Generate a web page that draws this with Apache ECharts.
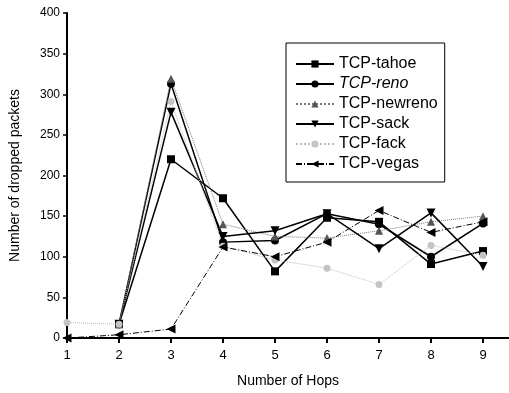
<!DOCTYPE html>
<html>
<head>
<meta charset="utf-8">
<script src="https://cdn.jsdelivr.net/npm/echarts@6/dist/echarts.min.js"></script>
<style>
	html, body { margin: 0; padding: 0; background: #fff; }
	#chart { width: 509px; height: 393px; }
</style>
</head>
<body>
<div id="chart"></div>
<script>
	// number of hops (x axis)
	var hops = [1, 2, 3, 4, 5, 6, 7, 8, 9];
	var yTicks = [0, 50, 100, 150, 200, 250, 300, 350, 400];

	// dropped packets per TCP variant
	var tahoe   = [null, 17, 220, 172, 82, 148, 143, 91, 107];
	var reno    = [null, 17, 313, 118, 120, 153, 140, 100, 141];
	var newreno = [null, 17, 319, 140, 125, 123, 132, 143, 150];
	var sack    = [null, 17, 278, 125, 132, 153, 110, 154, 88];
	var fack    = [19, 17, 291, 113, 96, 86, 66, 114, 102];
	var vegas   = [0, 4, 11, 112, 100, 118, 157, 130, 143];

	function pts(arr){
		return hops.map(function(h, i){ return [h, arr[i]]; });
	}

	var chart = echarts.init(document.getElementById("chart"));
	var font = "Liberation Sans, Arial, sans-serif";

	var option = {
		animation: false,
		textStyle: { fontFamily: font },
		grid: { left: 63, right: 0, top: 13, bottom: 53 },
		legend: {
			orient: 'vertical',
			left: 286,
			top: 43,
			padding: [13, 7, 10, 9],
			borderColor: '#000',
			borderWidth: 1,
			itemWidth: 38,
			itemHeight: 9,
			itemGap: 4,
			textStyle: { fontSize: 16, color: '#000', fontFamily: font },
			data: [
				{ name: 'TCP-tahoe' },
				{ name: 'TCP-reno', textStyle: { fontStyle: 'italic' } },
				{ name: 'TCP-newreno' },
				{ name: 'TCP-sack' },
				{ name: 'TCP-fack' },
				{ name: 'TCP-vegas' }
			]
		},
		xAxis: {
			type: 'value',
			min: 1,
			max: 9.5,
			interval: 1,
			name: 'Number of Hops',
			nameLocation: 'middle',
			nameGap: 36,
			nameTextStyle: { fontSize: 14, color: '#000' },
			axisLine: { lineStyle: { color: '#000', width: 2 } },
			axisTick: { inside: false, length: 5, lineStyle: { color: '#000', width: 2 }, customValues: hops },
			axisLabel: { fontSize: 13, color: '#000', margin: 11, customValues: hops },
			splitLine: { show: false }
		},
		yAxis: {
			type: 'value',
			min: 0,
			max: 400,
			interval: 50,
			name: 'Number of dropped packets',
			nameLocation: 'middle',
			nameGap: 45,
			nameTextStyle: { fontSize: 14, color: '#000' },
			axisLine: { show: true, lineStyle: { color: '#000', width: 2 } },
			axisTick: { show: true, length: 4, lineStyle: { color: '#000', width: 1.5 } },
			axisLabel: { fontSize: 12, color: '#000', margin: 7 },
			splitLine: { show: false }
		},
		series: [
			{
				name: 'TCP-tahoe', type: 'line', data: pts(tahoe),
				symbol: 'rect', symbolSize: 8,
				itemStyle: { color: '#000' },
				lineStyle: { color: '#000', width: 1.5 }
			},
			{
				name: 'TCP-reno', type: 'line', data: pts(reno),
				symbol: 'circle', symbolSize: 8,
				itemStyle: { color: '#000' },
				lineStyle: { color: '#000', width: 1.5 }
			},
			{
				name: 'TCP-newreno', type: 'line', data: pts(newreno),
				symbol: 'triangle', symbolSize: 8,
				itemStyle: { color: '#555' },
				lineStyle: { color: '#777', width: 1, type: 'dotted' }
			},
			{
				name: 'TCP-sack', type: 'line', data: pts(sack),
				symbol: 'triangle', symbolRotate: 180, symbolSize: 9,
				itemStyle: { color: '#000' },
				lineStyle: { color: '#000', width: 1.5 }
			},
			{
				name: 'TCP-fack', type: 'line', data: pts(fack),
				symbol: 'circle', symbolSize: 7,
				itemStyle: { color: '#c4c4c4' },
				lineStyle: { color: '#bbb', width: 1, type: 'dotted' }
			},
			{
				name: 'TCP-vegas', type: 'line', data: pts(vegas),
				symbol: 'triangle', symbolRotate: 90, symbolSize: 9,
				itemStyle: { color: '#000' },
				lineStyle: { color: '#000', width: 1, type: [6, 2, 1, 2] }
			}
		]
	};
	chart.setOption(option);
</script>
</body>
</html>
